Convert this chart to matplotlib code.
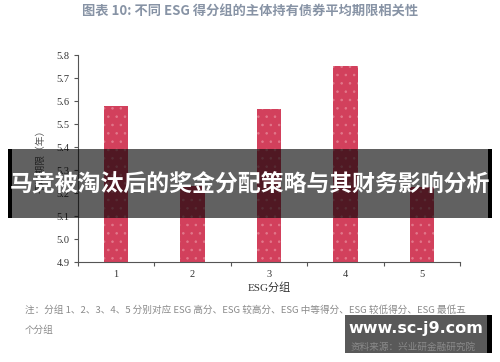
import matplotlib
matplotlib.use('Agg')
from matplotlib import pyplot as plt
from matplotlib.patches import Rectangle

plt.rcParams['font.family'] = ['Noto Sans CJK SC', 'DejaVu Sans']
plt.rcParams['hatch.linewidth'] = 0.6

groups = ['1', '2', '3', '4', '5']
avg_term = [5.578, 5.23, 5.564, 5.752, 5.225]
y_ticks = [4.9, 5.0, 5.1, 5.2, 5.3, 5.4, 5.5, 5.6, 5.7, 5.8]

title = '图表 10: 不同 ESG 得分组的主体持有债券平均期限相关性'
note1 = '注：分组 1、2、3、4、5 分别对应 ESG 高分、ESG 较高分、ESG 中等得分、ESG 较低得分、ESG 最低五'
note2 = '个分组'
source = '资料来源：兴业研金融研究院'
banner = '马竞被淘汰后的奖金分配策略与其财务影响分析'
mark = 'www.sc-j9.com'

fig = plt.figure(figsize=(5, 3.62), dpi=100)
ax = fig.add_axes([0.156, 0.276, 0.764, 0.572])

x = list(range(1, len(groups) + 1))
ax.bar(x, avg_term, width=0.32, color='#d2405c', edgecolor='#e2788b',
       hatch='..', linewidth=0)

ax.set_ylim(4.9, 5.8)
ax.set_xlim(0.5, 5.5)
ax.set_yticks(y_ticks)
ax.set_yticklabels([f'{v:.1f}' for v in y_ticks], family='Liberation Serif',
                   fontsize=7.5, color='#333333')
ax.set_xticks([i + 0.5 for i in range(0, 6)])
ax.set_xticklabels([])
ax.set_xticks(x, minor=True)
ax.set_xticklabels(groups, minor=True, family='Liberation Serif',
                   fontsize=7.5, color='#333333')
ax.tick_params(axis='x', which='minor', length=0, pad=6)
ax.tick_params(axis='x', which='major', length=3, color='#555555')
ax.tick_params(axis='y', length=3, color='#555555', pad=3)
for s in ['top', 'right']:
    ax.spines[s].set_visible(False)
for s in ['left', 'bottom']:
    ax.spines[s].set_color('#555555')
    ax.spines[s].set_linewidth(0.8)

ax.set_xlabel('ESG分组', family=['Liberation Serif', 'Noto Sans CJK SC'],
              fontsize=8, color='#333333', labelpad=2)
ax.set_ylabel('平均期限（年）', fontsize=7, color='#555555', labelpad=8)

fig.text(0.5, 0.967, title, ha='center', va='center', fontsize=9.5,
         fontweight='bold', color='#8793a5')
fig.text(0.05, 0.143, note1, ha='left', va='center', fontsize=6.9, color='#8a8a8a')
fig.text(0.05, 0.088, note2, ha='left', va='center', fontsize=6.9, color='#8a8a8a')
fig.text(0.952, 0.04, source, ha='right', va='center', fontsize=6.9, color='#8a8a8a')

# overlay banner
fig.patches.append(Rectangle((0.016, 0.398), 0.968, 0.19, transform=fig.transFigure,
                             facecolor='black', alpha=0.62, linewidth=0))
fig.patches.append(Rectangle((0.016, 0.398), 0.008, 0.19, transform=fig.transFigure,
                             facecolor='black', linewidth=0))
fig.patches.append(Rectangle((0.976, 0.398), 0.008, 0.19, transform=fig.transFigure,
                             facecolor='black', linewidth=0))
fig.text(0.5, 0.488, banner, ha='center', va='center', fontsize=16.5,
         fontweight='bold', color='white')

# watermark box
fig.patches.append(Rectangle((0.69, 0.025), 0.284, 0.105, transform=fig.transFigure,
                             facecolor='black', alpha=0.65, linewidth=0))
fig.patches.append(Rectangle((0.974, 0.025), 0.01, 0.105, transform=fig.transFigure,
                             facecolor='black', linewidth=0))
fig.text(0.832, 0.093, mark, ha='center', va='center', fontsize=11.5,
         fontweight='bold', color='white', family='DejaVu Sans')

fig.savefig('out.png', dpi=100)
